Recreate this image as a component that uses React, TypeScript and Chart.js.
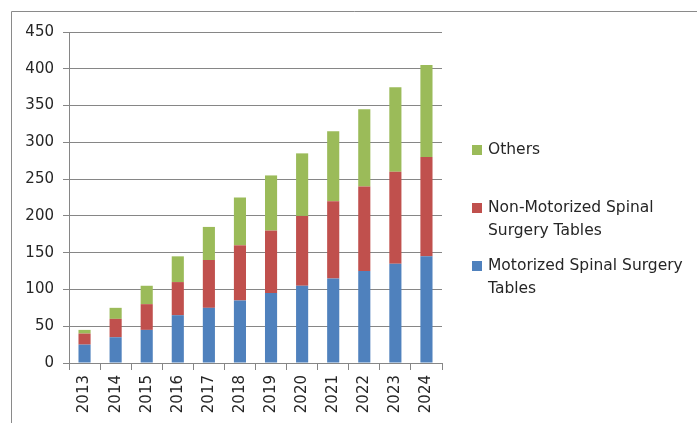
import React, { useEffect, useRef } from "react";
import { Chart, registerables } from "chart.js";

Chart.register(...registerables);

const categories = ["2013", "2014", "2015", "2016", "2017", "2018", "2019", "2020", "2021", "2022", "2023", "2024"];
const motorized = [25, 35, 45, 65, 75, 85, 95, 105, 115, 125, 135, 145];
const nonMotorized = [15, 25, 35, 45, 65, 75, 85, 95, 105, 115, 125, 135];
const others = [5, 15, 25, 35, 45, 65, 75, 85, 95, 105, 115, 125];
const seriesNames = ["Motorized Spinal Surgery Tables", "Non-Motorized Spinal Surgery Tables", "Others"];
const seriesColors = ["#4F81BD", "#C0504D", "#9BBB59"];

const TEXT_COLOR = "#262626";
const GRID_COLOR = "#868686";
const FONT = "DejaVu Sans";

const framePlugin = {
  id: "frame",
  beforeDraw(chart: any) {
    const ctx = chart.ctx;
    ctx.save();
    ctx.strokeStyle = "#8a8a8a";
    ctx.lineWidth = 1;
    ctx.beginPath();
    ctx.moveTo(11.5, chart.height);
    ctx.lineTo(11.5, 11.5);
    ctx.lineTo(chart.width, 11.5);
    ctx.stroke();
    ctx.restore();
  },
};

const legendPlugin = {
  id: "customLegend",
  afterDraw(chart: any) {
    const ctx = chart.ctx;
    ctx.save();
    ctx.font = `15.5px "${FONT}"`;
    ctx.textBaseline = "middle";
    ctx.textAlign = "left";
    const maxWidth = 205;
    const items = chart.data.datasets.map((d: any) => ({ label: d.label, color: d.backgroundColor })).reverse();
    const boxX = chart.chartArea.right + 30;
    const textX = boxX + 16;
    let y = 150;
    const lineH = 23;
    items.forEach((it: any) => {
      const words = it.label.split(" ");
      const lines: string[] = [];
      let cur = "";
      words.forEach((w: string) => {
        const test = cur ? cur + " " + w : w;
        if (ctx.measureText(test).width > maxWidth && cur) {
          lines.push(cur);
          cur = w;
        } else cur = test;
      });
      if (cur) lines.push(cur);
      ctx.fillStyle = it.color;
      ctx.fillRect(boxX, y - 5, 10, 10);
      ctx.fillStyle = TEXT_COLOR;
      lines.forEach((ln, i) => ctx.fillText(ln, textX, y + i * lineH));
      y += 58;
    });
    ctx.restore();
  },
};

export default function App() {
  const ref = useRef<HTMLCanvasElement>(null);
  useEffect(() => {
    document.body.style.margin = "0";
    const chart = new Chart(ref.current!, {
      type: "bar",
      data: {
        labels: categories,
        datasets: [
          { label: seriesNames[0], data: motorized, backgroundColor: seriesColors[0] },
          { label: seriesNames[1], data: nonMotorized, backgroundColor: seriesColors[1] },
          { label: seriesNames[2], data: others, backgroundColor: seriesColors[2] },
        ],
      },
      options: {
        responsive: false,
        animation: false,
        devicePixelRatio: 1,
        layout: { padding: { top: 32, right: 255, left: 0, bottom: 0 } },
        datasets: { bar: { barPercentage: 0.39, categoryPercentage: 1 } },
        plugins: { legend: { display: false }, tooltip: { enabled: false } },
        scales: {
          x: {
            stacked: true,
            grid: { drawOnChartArea: false, drawTicks: true, tickLength: 7, color: GRID_COLOR, offset: true },
            border: { display: true, color: GRID_COLOR },
            ticks: {
              autoSkip: false,
              minRotation: 90,
              maxRotation: 90,
              padding: 5,
              color: TEXT_COLOR,
              font: { family: FONT, size: 15 },
            },
            afterFit(scale: any) {
              scale.height = 60;
            },
          },
          y: {
            stacked: true,
            min: 0,
            max: 450,
            grid: { color: GRID_COLOR, tickLength: 6 },
            border: { display: true, color: GRID_COLOR },
            ticks: {
              stepSize: 50,
              padding: 9,
              color: TEXT_COLOR,
              font: { family: FONT, size: 15 },
            },
            afterFit(scale: any) {
              scale.width = 69;
            },
          },
        },
      },
      plugins: [framePlugin, legendPlugin],
    });
    return () => chart.destroy();
  }, []);
  return <canvas ref={ref} width={697} height={423} style={{ display: "block" }} />;
}
